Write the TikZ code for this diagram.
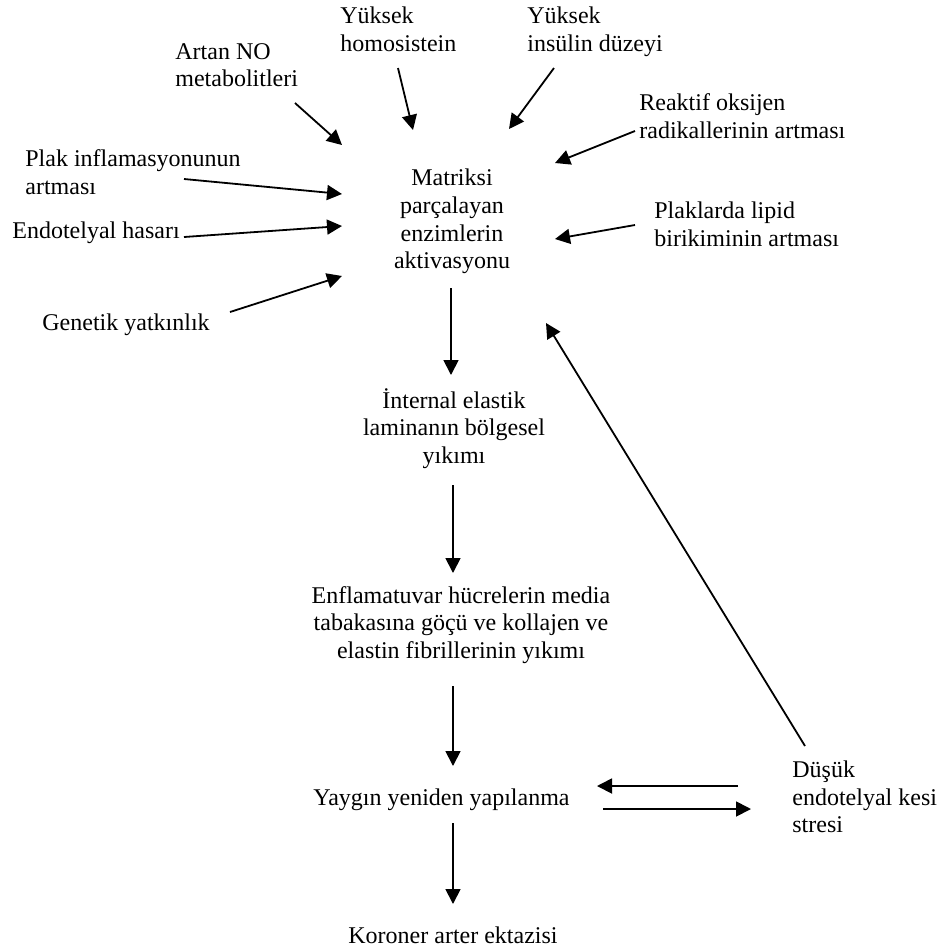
\documentclass[tikz,border=0pt]{standalone}
\usepackage{fontspec}
\setmainfont{Liberation Serif}
\usetikzlibrary{arrows.meta}
\begin{document}
\begin{tikzpicture}[x=.5pt,y=-.5pt,>={Triangle[length=7.5pt,width=7.5pt]},line join=round,
	font=\fontsize{12}{13.8}\selectfont,
	lbl/.style={inner sep=0pt,align=left,anchor=west},
	mid/.style={inner sep=0pt,align=center}]
		\useasboundingbox (0,0) rectangle (939,950);
		\path
		(340,29) node[lbl] (homos) {Yüksek\\homosistein}
		(527,31.5) node[lbl] (insulin) {Yüksek\\insülin düzeyi}
		(175,65) node[lbl] (artan) {Artan NO\\metabolitleri}
		(639,116) node[lbl] (reaktif) {Reaktif oksijen\\radikallerinin artması}
		(25,172) node[lbl] (plak) {Plak inflamasyonunun\\artması}
		(12,233) node[lbl] (endo) {Endotelyal hasarı}
		(42,325) node[lbl] (genetik) {Genetik yatkınlık}
		(654,224) node[lbl] (lipid) {Plaklarda lipid\\birikiminin artması}
		(452,221.5) node[mid] (matriks) {Matriksi\\parçalayan\\enzimlerin\\aktivasyonu}
		(454,428.5) node[mid] (lamina) {İnternal elastik\\laminanın bölgesel\\yıkımı}
		(461,625) node[mid] (enflam) {Enflamatuvar hücrelerin media\\tabakasına göçü ve kollajen ve\\elastin fibrillerinin yıkımı}
		(313,800) node[lbl] (yaygin) {Yaygın yeniden yapılanma}
		(792,797) node[lbl] (dusuk) {Düşük\\endotelyal kesi\\stresi}
		(453,935) node[mid] (koroner) {Koroner arter ektazisi}
		;
		\path
		(295,103) coordinate (artan1) (342,145) coordinate (artan2)
		(398,68) coordinate (homos1) (413,130) coordinate (homos2)
		(554,68) coordinate (insulin1) (509,129) coordinate (insulin2)
		(635,131) coordinate (reaktif1) (555,163) coordinate (reaktif2)
		(635,225) coordinate (lipid1) (555,239) coordinate (lipid2)
		(184,179) coordinate (plak1) (342,194) coordinate (plak2)
		(184,237) coordinate (endo1) (342,226) coordinate (endo2)
		(230,312) coordinate (genetik1) (342,276) coordinate (genetik2)
		(451,288) coordinate (matriks1) (451,375) coordinate (lamina2)
		(453,485) coordinate (lamina1) (453,573) coordinate (enflam2)
		(453,686) coordinate (enflam1) (453,766) coordinate (yaygin2)
		(453,823) coordinate (yaygin1) (453,904) coordinate (koroner2)
		(805,746) coordinate (dusuk1) (546,323) coordinate (matriks2)
		(738,786) coordinate (geri1) (597,786) coordinate (geri2)
		(603,809) coordinate (ileri1) (751,809) coordinate (ileri2)
		;
		\foreach \s/\e in {artan1/artan2,homos1/homos2,insulin1/insulin2,reaktif1/reaktif2,
			lipid1/lipid2,plak1/plak2,endo1/endo2,genetik1/genetik2,matriks1/lamina2,
			lamina1/enflam2,enflam1/yaygin2,yaygin1/koroner2,dusuk1/matriks2,geri1/geri2,ileri1/ileri2}
		\draw[->,line width=.9pt] (\s)--(\e);
\end{tikzpicture}
\end{document}
